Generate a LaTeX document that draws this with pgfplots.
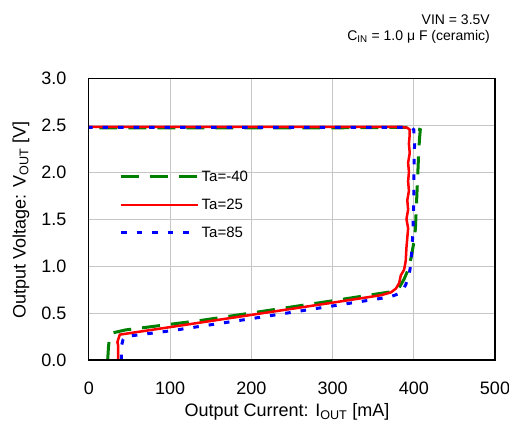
\documentclass[border=0pt]{standalone}
\usepackage{pgfplots}
\pgfplotsset{compat=1.18}
\usepackage{fontspec}
\setmainfont{Liberation Sans}
\definecolor{cgreen}{RGB}{0,128,0}
\definecolor{cred}{RGB}{255,0,0}
\definecolor{cblue}{RGB}{0,0,255}
\begin{document}
\begin{tikzpicture}
\begin{axis}[
  at={(0,0)}, anchor=south west,
  scale only axis, width=406pt, height=282pt,
  xmin=0, xmax=500, ymin=0, ymax=3,
  xtick={0,100,...,500}, ytick={0,0.5,...,3},
  /pgf/number format/assume math mode=true,
  yticklabel style={/pgf/number format/fixed, /pgf/number format/fixed zerofill, /pgf/number format/precision=1, anchor=center, xshift=-35pt},
  xticklabel style={anchor=center, yshift=-28pt},
  ticklabel style={font=\fontsize{18}{20}\selectfont},
  major tick length=0pt,
  grid=major, grid style={gray!45, line width=1pt},
  axis line style={line width=1pt, black},
  legend style={at={(rel axis cs:0.075,0.678)}, anchor=north west, draw=none, fill=none,
    font=\fontsize{15}{17}\selectfont, row sep=12pt, inner sep=0pt,
    nodes={inner sep=2pt}},
  legend cell align=left,
  legend image code/.code={\draw[#1] (0pt,0pt) -- (77pt,0pt);},
]
\addplot[cgreen, line width=3pt, dash pattern=on 18pt off 11pt] coordinates {
(23,0) (24,0.14) (25,0.22) (27,0.27) (30,0.29) (45,0.32) (100,0.38) (137,0.42) (200,0.50) (300,0.63) (375,0.73)
(382,0.77) (388,0.86) (393,0.96) (397,1.1) (400,1.25) (402,1.4) (403,1.6) (404,1.8) (405,2.0) (406,2.2) (407,2.35) (408,2.45)
(402,2.47) (390,2.475) (300,2.47) (200,2.47) (100,2.47) (0,2.47)};
\addlegendentry{Ta=-40}
\addplot[cred, line width=2.5pt] coordinates {
(36,0) (36,0.15) (35,0.19) (36,0.22) (38,0.27) (100,0.35) (200,0.48) (300,0.61) (360,0.69) (372,0.72)
(378,0.76) (382,0.82) (384,0.90) (388,0.96) (390,1.05) (391,1.2) (392,1.3) (393,1.4) (391,1.5) (393,1.6) (392,1.7)
(394,1.8) (393,1.9) (394,2.0) (393,2.1) (395,2.2) (394,2.3) (395,2.4) (395,2.45) (392,2.47) (385,2.48) (300,2.48) (200,2.48) (100,2.48) (0,2.48)};
\addlegendentry{Ta=25}
\addplot[cblue, line width=3pt, dash pattern=on 5.5pt off 10pt] coordinates {
(40,0) (40,0.15) (42,0.22) (45,0.25) (100,0.31) (200,0.44) (311,0.59) (370,0.67) (380,0.70) (386,0.74)
(390,0.80) (394,0.9) (396,1.0) (398,1.2) (399,1.4) (400,1.7) (400,2.0) (401,2.3) (400,2.45) (397,2.47) (390,2.475) (300,2.475) (200,2.475) (100,2.475) (0,2.475)};
\addlegendentry{Ta=85}
\draw[line width=2pt, black] (rel axis cs:0,0) -- (rel axis cs:1,0) -- (rel axis cs:1,1);
\end{axis}
\node[anchor=center, font=\fontsize{18}{20}\selectfont] at (198pt,-52pt) {Output Current: I\textsubscript{OUT} [mA]};
\node[anchor=center, rotate=90, font=\fontsize{18}{20}\selectfont] at (-68pt,140pt) {Output Voltage: V\textsubscript{OUT} [V]};
\node[anchor=east, font=\fontsize{14}{16}\selectfont, inner sep=0pt] at (401pt,340pt) {VIN = 3.5V};
\node[anchor=east, font=\fontsize{14}{16}\selectfont, inner sep=0pt] at (401pt,323pt) {C\textsubscript{IN} = 1.0 μ F (ceramic)};
\pgfresetboundingbox
\path (-89pt,-74pt) rectangle (420pt,360pt);
\end{tikzpicture}
\end{document}
